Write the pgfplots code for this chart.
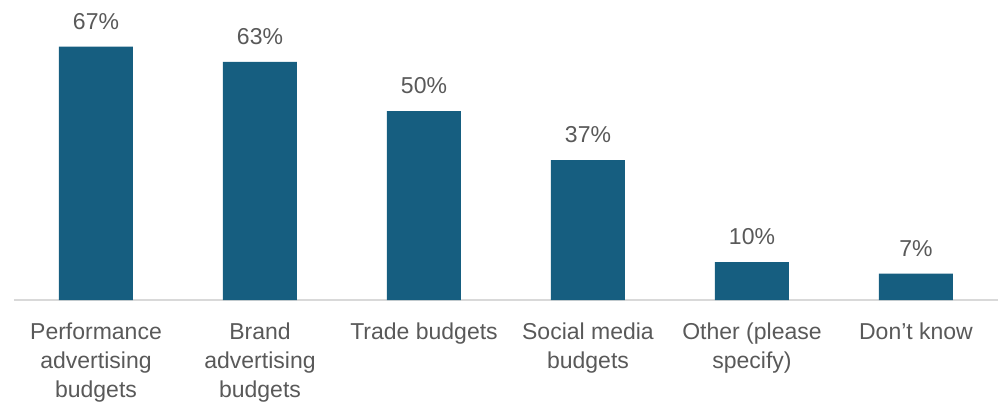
\documentclass[border=0pt]{standalone}
\usepackage{pgfplots}
\pgfplotsset{compat=1.18}
\usepackage{fontspec}
\setmainfont{Liberation Sans}
\definecolor{barc}{HTML}{165E80}
\definecolor{txt}{HTML}{595959}
\definecolor{axc}{HTML}{D9D9D9}
\begin{document}
\begin{tikzpicture}
\useasboundingbox (0,0) rectangle (501pt,201pt);
\begin{axis}[
  at={(7pt,51pt)}, anchor=south west,
  scale only axis, width=492pt, height=151.2pt,
  xmin=-0.5, xmax=5.5, ymin=0, ymax=80,
  axis x line*=bottom, axis y line=none,
  axis line style={axc, line width=0.8pt, -},
  xtick=data, major tick length=0pt,
  xticklabels={{Performance\\advertising\\budgets},{Brand\\advertising\\budgets},{Trade budgets},{Social media\\budgets},{Other (please\\specify)},{Don’t know}},
  xticklabel style={align=center, text=txt, font=\fontsize{11.5}{14.5}\selectfont, anchor=north, yshift=-8pt},
  ybar, bar width=37pt,
  nodes near coords={\pgfmathprintnumber{\pgfplotspointmeta}\%},
  nodes near coords style={text=txt, font=\fontsize{11.5}{14}\selectfont, yshift=5pt},
  /pgf/number format/assume math mode=true,
]
\addplot[fill=barc, draw=none] coordinates {(0,67) (1,63) (2,50) (3,37) (4,10) (5,7)};
\end{axis}
\end{tikzpicture}
\end{document}
